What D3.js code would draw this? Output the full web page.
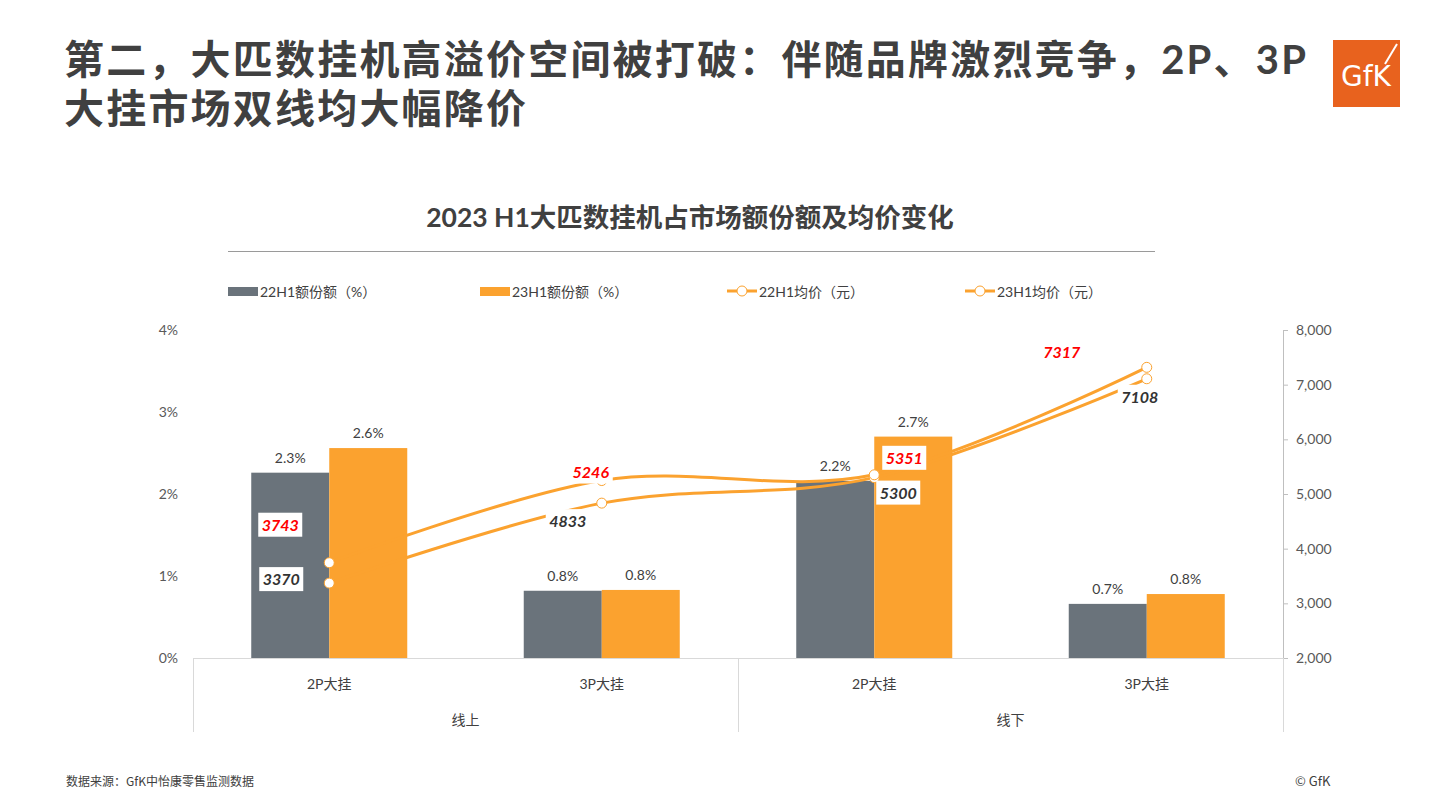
<!DOCTYPE html>
<html><head><meta charset="utf-8">
<script src="https://cdn.jsdelivr.net/npm/d3@7"></script>
<style>
html,body{margin:0;padding:0;background:#fff;}
svg{display:block;}
</style></head>
<body>
<svg id="chart" width="1441" height="810"></svg>
<script>
// ---- data ----
const categories = ["2P大挂", "3P大挂", "2P大挂", "3P大挂"];
const groups = ["线上", "线下"];
const share22 = [2.26, 0.82, 2.16, 0.66];
const share23 = [2.56, 0.83, 2.70, 0.78];
const price22 = [3370, 4833, 5300, 7108];
const price23 = [3743, 5246, 5351, 7317];
const leftTicks = [0, 1, 2, 3, 4];
const rightTicks = [2000, 3000, 4000, 5000, 6000, 7000, 8000];
const legendLabels = ["22H1额份额（%）", "23H1额份额（%）", "22H1均价（元）", "23H1均价（元）"];
// label offsets (px) for price labels relative to their points
const offs22 = [[-48, -4], [-34, 18], [24, 15], [-7, 18]];
const offs23 = [[-49, -38], [-11, -9], [30, -17], [-85, -15]];

const GREY = "#6A737B", ORANGE = "#FBA22F", TXT = "#404040", AX = "#595959";
const FONT = "Lato, 'Noto Sans CJK SC', sans-serif";
const CJK = "'Noto Sans CJK SC', sans-serif";

const svg = d3.select("#chart");
const L = 193, R = 1283, T = 330, B = 658;

// heading
const h = svg.append("g").attr("font-family", FONT).attr("font-weight", 700).attr("fill", TXT)
  .attr("font-size", 40).attr("letter-spacing", 2.2);
h.append("text").attr("x", 64).attr("y", 74).text("第二，大匹数挂机高溢价空间被打破：伴随品牌激烈竞争，2P、3P");
h.append("text").attr("x", 64).attr("y", 123).text("大挂市场双线均大幅降价");

// logo
svg.append("rect").attr("x", 1333).attr("y", 40).attr("width", 67).attr("height", 67).attr("fill", "#E8621E");
svg.append("text").attr("x", 1366).attr("y", 86).attr("text-anchor", "middle").attr("fill", "#fff")
  .attr("font-family", "'DejaVu Sans', sans-serif").attr("font-size", 28).text("GfK");
svg.append("line").attr("x1", 1385).attr("y1", 64).attr("x2", 1397).attr("y2", 44).attr("stroke", "#fff").attr("stroke-width", 2);

// chart title
svg.append("text").attr("x", 690).attr("y", 227).attr("text-anchor", "middle")
  .attr("font-family", FONT).attr("font-weight", 700).attr("font-size", 26.5).attr("fill", TXT)
  .text("2023 H1大匹数挂机占市场额份额及均价变化");
svg.append("line").attr("x1", 228).attr("x2", 1155).attr("y1", 251.5).attr("y2", 251.5).attr("stroke", "#9a9a9a").attr("stroke-width", 1.2);

// scales
const x = d3.scaleBand().domain(d3.range(categories.length)).range([L, R]).paddingInner(0.4275).paddingOuter(0.21375);
const xs = d3.scaleBand().domain([0, 1]).range([0, x.bandwidth()]);
const yL = d3.scaleLinear().domain([0, 4]).range([B, T]);
const yR = d3.scaleLinear().domain([2000, 8000]).range([B, T]);
const cx = i => x(i) + x.bandwidth() / 2;

// left axis
const axL = svg.append("g").attr("transform", `translate(${L - 15},0)`)
  .call(d3.axisLeft(yL).tickValues(leftTicks).tickSize(0).tickPadding(0).tickFormat(d => d + "%"));
axL.select(".domain").remove();
axL.selectAll("text").attr("font-family", FONT).attr("font-size", 14).attr("fill", AX);

// right axis
const axR = svg.append("g").attr("transform", `translate(${R},0)`)
  .call(d3.axisRight(yR).tickValues(rightTicks).tickSize(5).tickSizeOuter(0).tickPadding(8).tickFormat(d3.format(",")));
axR.select(".domain").attr("stroke", "#bfbfbf");
axR.selectAll(".tick line").attr("stroke", "#bfbfbf");
axR.selectAll("text").attr("font-family", FONT).attr("font-size", 14).attr("fill", AX);

// bottom category axis
const gx = svg.append("g");
gx.append("line").attr("x1", L).attr("x2", R).attr("y1", B + 0.5).attr("y2", B + 0.5).attr("stroke", "#d9d9d9");
[L, (L + R) / 2, R].forEach(v => gx.append("line").attr("x1", v + 0.5).attr("x2", v + 0.5).attr("y1", B).attr("y2", 732).attr("stroke", "#d9d9d9"));
gx.selectAll("text.cat").data(categories).join("text").attr("class", "cat")
  .attr("x", (d, i) => cx(i)).attr("y", 689).attr("text-anchor", "middle")
  .attr("font-family", FONT).attr("font-size", 14).attr("fill", TXT).text(d => d);
gx.selectAll("text.grp").data(groups).join("text").attr("class", "grp")
  .attr("x", (d, i) => L + (R - L) / 4 * (2 * i + 1)).attr("y", 725).attr("text-anchor", "middle")
  .attr("font-family", FONT).attr("font-size", 14).attr("fill", TXT).text(d => d);

// bars
const series = [{vals: share22, color: GREY}, {vals: share23, color: ORANGE}];
series.forEach((s, si) => {
  const g = svg.append("g");
  g.selectAll("rect").data(s.vals).join("rect")
    .attr("x", (d, i) => x(i) + xs(si)).attr("width", xs.bandwidth())
    .attr("y", d => yL(d)).attr("height", d => B - yL(d)).attr("fill", s.color);
  g.selectAll("text").data(s.vals).join("text")
    .attr("x", (d, i) => x(i) + xs(si) + xs.bandwidth() / 2).attr("y", d => yL(d) - 10)
    .attr("text-anchor", "middle").attr("font-family", FONT).attr("font-size", 14).attr("fill", TXT)
    .text(d => d.toFixed(1) + "%");
});

// lines
const line = d3.line().x((d, i) => cx(i)).y(d => yR(d)).curve(d3.curveCardinal.tension(0));
[price22, price23].forEach(p => {
  svg.append("path").datum(p).attr("d", line).attr("fill", "none").attr("stroke", ORANGE).attr("stroke-width", 3);
});
[price22, price23].forEach(p => {
  svg.append("g").selectAll("circle").data(p).join("circle")
    .attr("cx", (d, i) => cx(i)).attr("cy", d => yR(d)).attr("r", 5)
    .attr("fill", "#fff").attr("stroke", ORANGE).attr("stroke-width", 1);
});

// price labels
function priceLabels(p, offs, color) {
  const g = svg.append("g");
  p.forEach((v, i) => {
    const px = cx(i) + offs[i][0], py = yR(v) + offs[i][1];
    const gg = g.append("g").attr("transform", `translate(${px},${py})`);
    gg.append("rect").attr("x", -22).attr("y", -12).attr("width", 44).attr("height", 24).attr("fill", "#fff");
    gg.append("text").attr("text-anchor", "middle").attr("dy", 6)
      .attr("font-family", FONT).attr("font-size", 16).attr("font-style", "italic").attr("font-weight", 700)
      .attr("fill", color).text(v);
  });
}
priceLabels(price22, offs22, "#333333");
priceLabels(price23, offs23, "#FF0000");

// legend
const lg = svg.append("g").attr("font-family", FONT).attr("font-size", 14).attr("fill", TXT);
const lx = [228, 480, 727, 965];
legendLabels.forEach((t, i) => {
  if (i < 2) {
    lg.append("rect").attr("x", lx[i]).attr("y", 287).attr("width", 30).attr("height", 9).attr("fill", i === 0 ? GREY : ORANGE);
  } else {
    lg.append("line").attr("x1", lx[i]).attr("x2", lx[i] + 30).attr("y1", 291).attr("y2", 291).attr("stroke", ORANGE).attr("stroke-width", 3);
    lg.append("circle").attr("cx", lx[i] + 15).attr("cy", 291).attr("r", 5).attr("fill", "#fff").attr("stroke", ORANGE);
  }
  lg.append("text").attr("x", lx[i] + 32).attr("y", 297).text(t);
});

// footer
svg.append("text").attr("x", 66).attr("y", 786).attr("font-family", CJK).attr("font-size", 12).attr("fill", TXT).text("数据来源：GfK中怡康零售监测数据");
svg.append("text").attr("x", 1295).attr("y", 786).attr("font-family", CJK).attr("font-size", 13).attr("fill", TXT).text("© GfK");
</script>
</body></html>
